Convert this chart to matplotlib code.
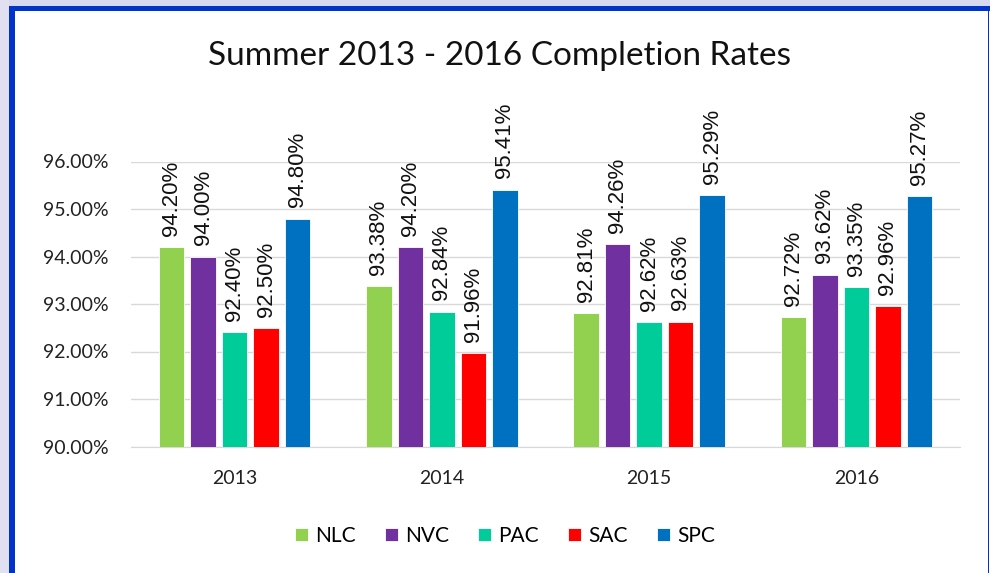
import numpy as np
import matplotlib.pyplot as plt
from matplotlib.patches import Rectangle
from matplotlib.ticker import FuncFormatter

years = ["2013", "2014", "2015", "2016"]
colleges = ["NLC", "NVC", "PAC", "SAC", "SPC"]
colors = ["#92D050", "#7030A0", "#00CC99", "#FF0000", "#0070C0"]

nlc = [94.20, 93.38, 92.81, 92.72]
nvc = [94.00, 94.20, 94.26, 93.62]
pac = [92.40, 92.84, 92.62, 93.35]
sac = [92.50, 91.96, 92.63, 92.96]
spc = [94.80, 95.41, 95.29, 95.27]
rates = [nlc, nvc, pac, sac, spc]

W, H = 990, 573
fig = plt.figure(figsize=(W / 100, H / 100), dpi=100, facecolor="white")

# frame around the chart (screenshot edges)
def px_rect(x0, y0, x1, y1, color):
    fig.add_artist(Rectangle((x0 / W, 1 - y1 / H), (x1 - x0) / W, (y1 - y0) / H,
                             transform=fig.transFigure, facecolor=color,
                             edgecolor="none", zorder=0))

px_rect(0, 0, W, 6, "#d8d8ee")
px_rect(0, 0, 9, H, "#e0e0f2")
px_rect(9, 6, W, 11, "#0033cc")
px_rect(9, 6, 15, H, "#0033cc")
px_rect(987.5, 11, 989, H, "#0033cc")

ax = fig.add_axes([131 / W, 1 - 446.5 / H, (960 - 131) / W, (446.5 - 161.5) / H])
ax.set_facecolor("none")

x = np.arange(len(years))
step = 0.152
width = 0.122
for i, (name, vals, c) in enumerate(zip(colleges, rates, colors)):
    pos = x + (i - 2) * step
    ax.bar(pos, np.array(vals) - 90, width, bottom=90, color=c,
           edgecolor="white", linewidth=0.6, label=name, zorder=3)
    for p, v in zip(pos, vals):
        ax.annotate(f"{v:.2f}%", (p, v), xytext=(0, 8), textcoords="offset points",
                    rotation=90, ha="center", va="bottom", fontsize=16,
                    family="Liberation Sans", color="#111111", annotation_clip=False)

ax.set_xlim(-0.5, 3.5)
ax.set_ylim(90, 96)
ax.set_yticks(np.arange(90, 96.01, 1))
ax.yaxis.set_major_formatter(FuncFormatter(lambda v, _: f"{v:.2f}%"))
ax.set_xticks(x)
ax.set_xticklabels(years)
ax.grid(axis="y", color="#d9d9d9", linewidth=1, zorder=0)
for s in ["top", "right", "left"]:
    ax.spines[s].set_visible(False)
ax.spines["bottom"].set_color("#d9d9d9")
ax.tick_params(length=0, labelsize=14, labelcolor="#222222")
ax.tick_params(axis="y", pad=16)
ax.tick_params(axis="x", pad=17)
for lab in ax.get_xticklabels() + ax.get_yticklabels():
    lab.set_family("Lato")

fig.text(0.505, 1 - 56 / H, "Summer 2013 - 2016 Completion Rates", ha="center",
         va="center", fontsize=24, family="Lato", color="#111111")

fig.legend(loc="center", bbox_to_anchor=(0.51, 1 - 536 / H), ncol=5, frameon=False,
           prop={"family": "Lato", "size": 15}, handlelength=0.62,
           handleheight=0.62, handletextpad=0.35, columnspacing=1.4)

fig.savefig("out.png", dpi=100, facecolor=fig.get_facecolor())
